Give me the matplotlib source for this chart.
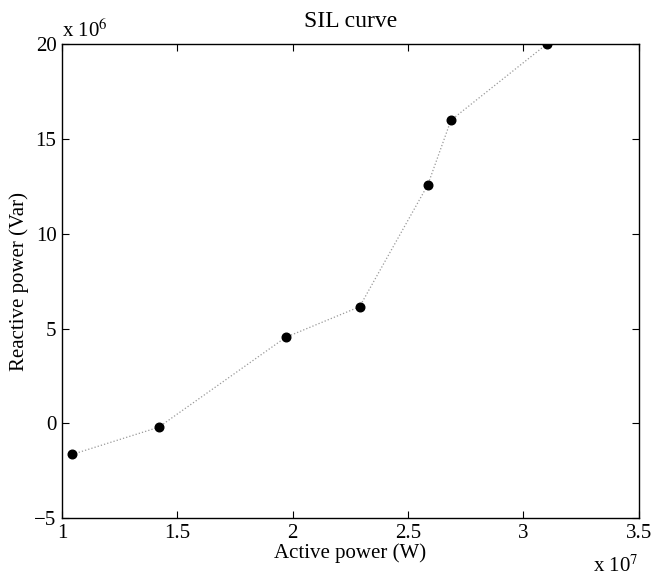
import matplotlib
matplotlib.use("Agg")
import matplotlib.pyplot as plt
from matplotlib.ticker import FuncFormatter

active_power = [1.045e7, 1.419e7, 1.970e7, 2.290e7, 2.586e7, 2.686e7, 3.102e7]
reactive_power = [-1.63e6, -0.20e6, 4.54e6, 6.15e6, 12.58e6, 15.98e6, 20.0e6]
x_ticks = [1.0e7, 1.5e7, 2.0e7, 2.5e7, 3.0e7, 3.5e7]
y_ticks = [-5e6, 0, 5e6, 10e6, 15e6, 20e6]

plt.rcParams['font.family'] = ['Liberation Serif', 'DejaVu Serif']
plt.rcParams['font.size'] = 15

fig = plt.figure(figsize=(6.54, 5.81), dpi=100)
ax = fig.add_axes([0.0948, 0.1079, 0.8818, 0.8164])

ax.plot(active_power, reactive_power, linestyle=':', color='#999999', linewidth=0.9)
ax.plot(active_power, reactive_power, linestyle='none', marker='o', color='black',
        markersize=6.2)

ax.set_xlim(1.0e7, 3.5e7)
ax.set_ylim(-5e6, 20e6)
ax.set_xticks(x_ticks)
ax.set_yticks(y_ticks)
ax.xaxis.set_major_formatter(FuncFormatter(lambda v, p: f"{v/1e7:g}"))
ax.yaxis.set_major_formatter(FuncFormatter(lambda v, p: f"{v/1e6:g}".replace('-', '\u2212')))
ax.tick_params(direction='in', length=5, width=0.8, top=True, right=True,
               labelsize=15, pad=4)
for s in ax.spines.values():
    s.set_linewidth(1.0)

ax.set_title("SIL curve", fontsize=17, pad=12)
ax.set_xlabel("Active power (W)", fontsize=15, labelpad=0)
ax.set_ylabel("Reactive power (Var)", fontsize=15, labelpad=4)

ax.text(0.0, 1.005, r"x 10$^{6}$", transform=ax.transAxes, ha='left', va='bottom',
        fontsize=15, math_fontfamily='stix')
ax.text(1.0, -0.078, r"x 10$^{7}$", transform=ax.transAxes, ha='right', va='top',
        fontsize=15, math_fontfamily='stix')

fig.savefig("out.png", dpi=100)
